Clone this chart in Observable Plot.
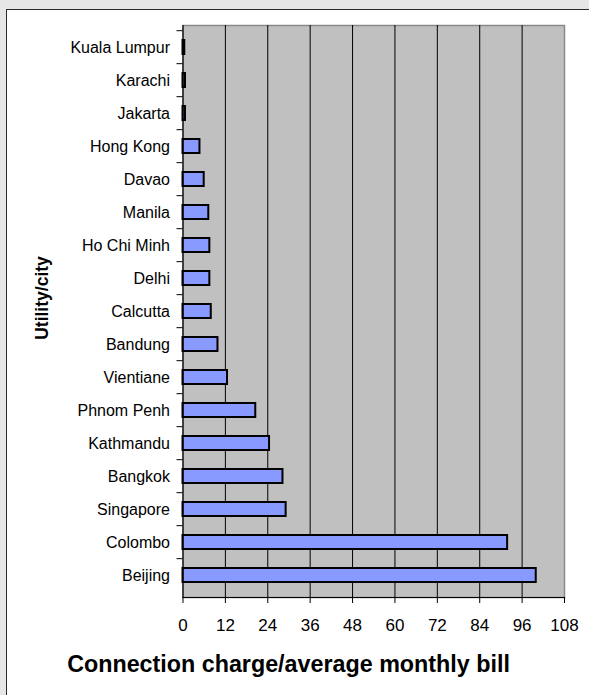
<!DOCTYPE html>
<html><head><meta charset="utf-8">
<script src="https://cdn.jsdelivr.net/npm/d3@7"></script>
<script src="https://cdn.jsdelivr.net/npm/@observablehq/plot@0.6"></script>
<style>
html,body{margin:0;padding:0;background:#e6e6e6;}
#wrap{position:relative;width:589px;height:695px;overflow:hidden;background:#e6e6e6;}
#box{position:absolute;left:6px;top:9px;width:600px;height:700px;background:#fff;border-left:1.5px solid #2a2a2a;border-top:1.5px solid #2a2a2a;}
#chart{position:absolute;left:0;top:0;}
.t{position:absolute;font-family:"Liberation Sans",Arial,sans-serif;font-weight:bold;color:#000;white-space:nowrap;}
#xt{left:0;width:577px;text-align:center;top:653px;font-size:23.3px;line-height:23px;}
#yt{left:43px;top:298px;font-size:17.5px;line-height:17.5px;transform:translate(-50%,-50%) rotate(-90deg);}
</style></head><body>
<div id="wrap">
<div id="box"></div>
<div id="chart"></div>
<div id="xt" class="t">Connection charge/average monthly bill</div>
<div id="yt" class="t">Utility/city</div>
</div>
<script>
const cities = ["Kuala Lumpur","Karachi","Jakarta","Hong Kong","Davao","Manila","Ho Chi Minh","Delhi","Calcutta","Bandung","Vientiane","Phnom Penh","Kathmandu","Bangkok","Singapore","Colombo","Beijing"];
const values = [0.5,0.7,0.7,4.8,6.0,7.3,7.6,7.6,8.0,9.9,12.6,20.6,24.5,28.3,29.2,91.9,100];
const xTicks = [0,12,24,36,48,60,72,84,96,108];
const gridValues = [12,24,36,48,60,72,84,96];

const W = 589, H = 695, mL = 182.5, mR = 25, mT = 25, mB = 98;
const step = (H - mT - mB) / cities.length;
const data = cities.map((c, i) => ({city: c, value: values[i]}));

const chart = Plot.plot({
  width: W, height: H,
  marginLeft: mL, marginRight: mR, marginTop: mT, marginBottom: mB,
  style: {fontFamily: "'Liberation Sans', Arial, sans-serif", fontSize: "16px", color: "#000", background: "transparent", overflow: "visible"},
  x: {domain: [0, 108], label: null},
  y: {domain: cities, paddingInner: 0.58, paddingOuter: 0.29, label: null},
  marks: [
    Plot.frame({fill: "#c0c0c0", stroke: "#8a8a8a", strokeWidth: 1.5}),
    Plot.ruleX(gridValues, {stroke: "#000", strokeWidth: 1}),
    Plot.barX(data, {x: "value", y: "city", fill: "#8899ff", stroke: "#000", strokeWidth: 2}),
    Plot.ruleX([0], {stroke: "#000", strokeWidth: 1.2}),
    Plot.frame({anchor: "bottom", stroke: "#000", strokeWidth: 1.2}),
    Plot.axisX({ticks: xTicks, tickSize: 6, tickPadding: 15, fontSize: 17, stroke: "#000", label: null}),
    Plot.axisY({tickSize: 0, tickPadding: 13, fontSize: 16, label: null}),
    Plot.axisY({tickSize: 6, tickFormat: () => "", dy: -step / 2, stroke: "#000", label: null})
  ]
});
document.getElementById("chart").appendChild(chart);
</script>
</body></html>
